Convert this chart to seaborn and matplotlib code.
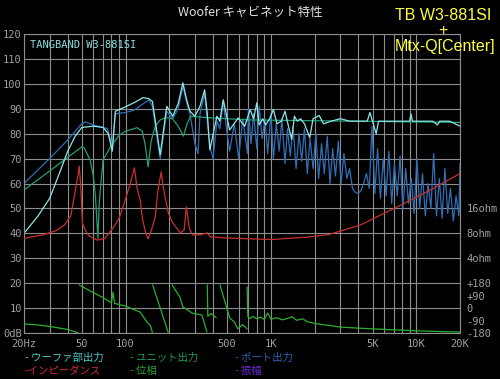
import numpy as np
import pandas as pd
import matplotlib
matplotlib.use("Agg")
import matplotlib.pyplot as plt
import seaborn as sns
from matplotlib.ticker import FixedLocator, NullLocator, FixedFormatter, NullFormatter

# ---------------- data ----------------
# Woofer section output (dB)
woofer_f = [20, 25, 30, 35, 40, 45, 50, 60, 70, 76, 81, 85, 100, 115, 132, 145, 153, 163, 173,
            192, 211, 230, 248, 262, 277, 300, 325, 350, 365, 380, 425, 445, 470, 520, 595, 660,
            720, 760, 800, 830, 880, 920, 980, 1040, 1100, 1180, 1250, 1320, 1390, 1450, 1520,
            1600, 1700, 1850, 1950, 2150, 2300, 2600, 3000, 3500, 4600, 4800, 5000, 5300, 5500,
            9000, 9200, 9400, 13000, 14000, 14500, 17000, 20000]
woofer_db = [40, 47, 54, 64, 73, 79, 82.5, 83, 82.5, 80, 73, 89, 90.8, 92.5, 94.5, 94, 92.9, 82, 71.5,
             91, 87, 92, 100.4, 94, 89, 87, 91, 97.6, 88, 73.5, 87, 85, 93.6, 81.5, 86.3, 83,
             89.6, 86, 92.4, 83.5, 86, 83.5, 86, 89.7, 84, 85, 89, 83, 77.7, 87, 85,
             86, 84, 78.4, 86, 87.3, 84, 85, 86, 85, 85, 88.5, 85, 80, 85,
             85, 88, 85, 85, 83.5, 85, 85, 83]

# Unit output (dB)
unit_f = [20, 30, 40, 50, 52, 57, 60, 62, 64.5, 66, 70, 75, 80, 91, 100, 120, 130, 136, 143,
          150, 160, 173, 190, 210, 230, 250, 265, 280, 350, 500, 720, 20000]
unit_db = [57.4, 65, 70.5, 74.7, 74.2, 69.5, 63, 55, 38, 53, 69.5, 72.5, 75.5, 79.5, 81, 82.4, 81, 76, 66.7,
           77, 83, 85.5, 86.5, 86, 83, 79, 84, 87, 86.5, 86, 85.5, 84.5]

# Port output (dB)
port_f = [20, 30, 40, 50, 53, 60, 70, 75, 80, 81, 85, 100, 115, 132, 145, 153, 163, 173, 192, 211,
          230, 248, 262, 277, 300, 315, 325, 350, 365, 380, 400, 425, 445, 470, 500, 520, 560, 600,
          640, 690,
          700, 730, 760, 800, 830, 870, 910, 950, 1000, 1040, 1090, 1140, 1190, 1250, 1300, 1360,
          1420, 1490, 1560, 1630, 1700, 1780, 1860, 1950, 2040, 2130, 2230, 2330, 2440, 2550,
          2660, 2780, 2910, 3040, 3180, 3330, 3480, 3640, 3800, 3970, 4150, 4340, 4540, 4750,
          4960, 5190, 5420, 5670, 5930, 6200, 6480, 6780, 7080, 7400, 7740, 8090, 8460, 8840,
          9240, 9660, 10100, 10560, 11040, 11540, 12060, 12610, 13180, 13780, 14410, 15060,
          15740, 16460, 17200, 17980, 18800, 19650, 20000]
port_db = [60, 70, 77.5, 84, 84.7, 83.5, 82.5, 82, 76, 73.5, 88, 88.5, 89.5, 92, 93.5, 91, 80, 70, 89, 86,
           90, 99, 93, 88, 76, 72, 88, 96, 85, 75, 70, 85, 82, 93, 80, 73, 84, 70,
           86, 72,
           90, 76, 88, 74, 91, 78, 86, 72, 88, 70, 84, 73, 86, 68, 82, 71,
           83, 66, 80, 69, 82, 64, 78, 66, 80, 62, 76, 64, 79, 60,
           74, 63, 77, 60, 72, 62, 66, 58, 56.5, 56, 57, 60, 64, 58,
           83, 56, 74, 54, 70, 55, 73, 52, 68, 55, 71, 50, 66, 52,
           62, 48, 70, 50, 64, 47, 60, 50, 72, 47, 62, 46,
           66, 48, 58, 45, 55, 47, 68]

# Impedance (ohm)
imp_f = [20, 27, 33, 38, 42, 45, 47, 48, 49, 50.5, 53, 56, 60, 64, 72, 82, 90, 96, 108, 115, 120,
         126, 131, 137, 143, 150, 160, 167, 176, 181, 187, 197, 209, 238, 253, 262, 274, 289,
         327, 365, 383, 471, 725, 1000, 1800, 2500, 4150, 7800, 12500, 20000]
imp_ohm = [6.96, 7.67, 8.57, 10.13, 13.0, 26.0, 39.4, 52.0, 32.0, 10.56, 8.57, 7.46, 6.96, 6.63, 6.96,
           9.32, 12.0, 16.68, 32.4, 49.5, 28.0, 20.25, 11.63, 8.3, 6.86, 8.57, 12.64, 26.7, 44.3, 30.0,
           22.0, 14.0, 11.0, 8.11, 8.82, 16.68, 9.32, 7.67, 7.67, 8.11, 7.26, 7.06, 6.86, 6.73,
           7.21, 7.73, 10.13, 17.5, 26.7, 42.2]

# Phase (degrees), split into wrapped segments
phase_f = [20, 25, 32, 40, 47,
           48, 60, 70, 80, 82, 84, 100, 126, 140, 148, 153,
           153.5, 196,
           209, 236, 248, 287, 335, 363,
           365, 368, 390, 420,
           446, 521, 560, 591, 640, 684,
           686, 694, 720, 750, 800, 850, 900, 950, 1000, 1100, 1200, 1300, 1400, 1500, 1650,
           1800, 2000, 2200, 2500, 3000, 4000, 5000, 7000, 10000, 15000, 20000]
phase_deg = [-115, -122, -137, -155, -178,
             167, 112, 75, 38, 115, 34, 14, -29, -100, -125, -175,
             167, -173,
             167, 81, 8, -36, -50, -173,
             167, -58, -40, -70,
             167, -72, -100, -150, -120, -150,
             153, -60, -75, -60, -78, -65, -82, -36, -80, -70, -85, -75, -62, -88, -78,
             -100, -110, -118, -125, -137, -145, -150, -157, -164, -170, -173]
phase_seg = [0] * 5 + [1] * 11 + [2] * 2 + [3] * 6 + [4] * 4 + [5] * 6 + [6] * 26

# axis labels
x_major = [20, 50, 100, 500, 1000, 5000, 10000, 20000]
x_major_labels = ["20Hz", "50", "100", "500", "1K", "5K", "10K", "20K"]
x_minor = [30, 40, 60, 70, 80, 90, 200, 300, 400, 600, 700, 800, 900,
           2000, 3000, 4000, 6000, 7000, 8000, 9000]
y_ticks = [120, 110, 100, 90, 80, 70, 60, 50, 40, 30, 20, 10, 0]
y_labels = ["120", "110", "100", "90", "80", "70", "60", "50", "40", "30", "20", "10", "0dB"]
ohm_ticks = [16, 8, 4]
ohm_labels = ["16ohm", "8ohm", "4ohm"]
phase_ticks = [180, 90, 0, -90, -180]
phase_labels = ["+180", "+90", "0", "-90", "-180"]

legend_items = [("- ウーファ部出力", "#4cc8c8"), ("- ユニット出力", "#1f9a5a"), ("- ポート出力", "#2a62b8"),
                ("-インピーダンス", "#d02828"), ("- 位相", "#2aa02a"), ("- 振幅", "#6a28d0")]

# ---------------- style ----------------
sns.set_theme(style="dark", rc={"axes.facecolor": "black", "figure.facecolor": "black",
                                "savefig.facecolor": "black"})
plt.rcParams['font.family'] = ['Noto Sans CJK JP', 'DejaVu Sans']

GRID = "#8e8e8e"
TXT = "#a0a0a0"
MONO = ["DejaVu Sans Mono"]

fig = plt.figure(figsize=(5, 3.79), dpi=100)
ax = fig.add_axes([24 / 500, 1 - 333 / 379, 436 / 500, 299 / 379])
ax.set_facecolor("black")
ax.set_xscale("log")
ax.set_xlim(20, 20000)
ax.set_ylim(0, 120)

axz = ax.twinx()
axz.set_yscale("log", base=2)
axz.set_ylim(0.5, 2048)
axp = ax.twinx()
axp.set_ylim(-180, 1980)


def draw(axis, f, v, color, seg=None, lw=0.9):
    df = pd.DataFrame({"f": f, "v": v, "seg": seg if seg is not None else [0] * len(f)})
    sns.lineplot(data=df, x="f", y="v", units="seg", estimator=None, sort=False,
                 color=color, lw=lw, ax=axis, legend=False)


draw(ax, port_f, port_db, "#2f6fb4")
draw(ax, unit_f, unit_db, "#22a070")
draw(ax, woofer_f, woofer_db, "#8ee6e6")
draw(axz, imp_f, imp_ohm, "#c83030")
draw(axp, phase_f, phase_deg, "#2eae2e", seg=phase_seg)

for a in (ax, axz, axp):
    a.set_xlabel("")
    a.set_ylabel("")
    a.set_xscale("log")
    a.set_xlim(20, 20000)
axz.set_ylim(0.5, 2048)
axp.set_ylim(-180, 1980)
ax.set_ylim(0, 120)

ax.xaxis.set_major_locator(FixedLocator(x_major))
ax.xaxis.set_major_formatter(FixedFormatter(x_major_labels))
ax.xaxis.set_minor_locator(FixedLocator(x_minor))
ax.xaxis.set_minor_formatter(NullFormatter())
ax.yaxis.set_major_locator(FixedLocator(y_ticks))
ax.yaxis.set_major_formatter(FixedFormatter(y_labels))
ax.grid(True, which="both", axis="both", color=GRID, lw=0.8)
ax.set_axisbelow(True)

ax.tick_params(axis="both", which="both", length=0, colors=TXT, labelsize=7.5)
ax.tick_params(axis="y", pad=1.5)
ax.tick_params(axis="x", pad=4.5)
for lab in ax.get_xticklabels() + ax.get_yticklabels():
    lab.set_family(MONO)

axz.yaxis.set_major_locator(FixedLocator(ohm_ticks))
axz.yaxis.set_major_formatter(FixedFormatter(ohm_labels))
axz.yaxis.set_minor_locator(NullLocator())
axp.yaxis.set_major_locator(FixedLocator(phase_ticks))
axp.yaxis.set_major_formatter(FixedFormatter(phase_labels))
for a in (axz, axp):
    a.tick_params(axis="y", which="both", length=0, colors=TXT, labelsize=7.5, pad=4.5)
    a.tick_params(axis="x", which="both", length=0, labelbottom=False)
    a.grid(False)
    for lab in a.get_yticklabels():
        lab.set_family(MONO)
    for s in a.spines.values():
        s.set_visible(False)

for s in ax.spines.values():
    s.set_visible(True)
    s.set_color(GRID)
    s.set_linewidth(0.8)

ax.text(0.014, 0.963, "TANGBAND W3-881SI", transform=ax.transAxes, color="#8ee0e0",
        fontsize=7.5, family=MONO, va="center", ha="left")

fig.text(0.5, 1 - 12 / 379, "Woofer キャビネット特性", color="#e0e0e0", fontsize=9,
         ha="center", va="center")
fig.text(443 / 500, 1 - 15 / 379, "TB W3-881SI", color="#ffff40", fontsize=11.5,
         family=["Liberation Sans"], ha="center", va="center")
fig.text(443 / 500, 1 - 31 / 379, "+", color="#ffff40", fontsize=11.5,
         family=["Liberation Sans"], ha="center", va="center")
fig.text(445 / 500, 1 - 46 / 379, "Mtx-Q[Center]", color="#ffff40", fontsize=11.5,
         family=["Liberation Sans"], ha="center", va="center")

xs = [25, 130, 235]
ys = [358, 371]
for i, (txt, col) in enumerate(legend_items):
    fig.text(xs[i % 3] / 500, 1 - ys[i // 3] / 379, txt, color=col, fontsize=7.5,
             ha="left", va="center")

fig.savefig("out.png", dpi=100, facecolor="black")
